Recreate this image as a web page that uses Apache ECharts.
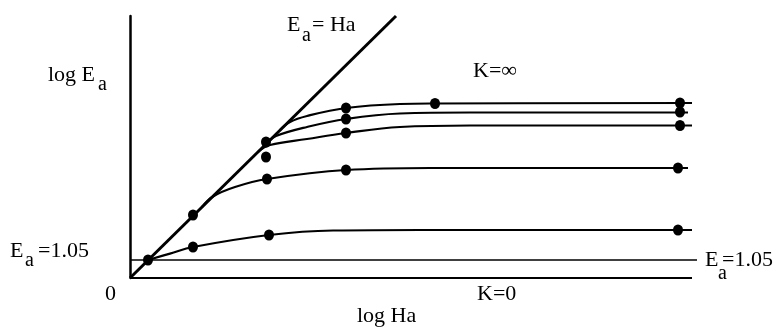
<!DOCTYPE html>
<html>
<head>
<meta charset="utf-8">
<script src="https://cdn.jsdelivr.net/npm/echarts@6/dist/echarts.min.js"></script>
<style>
  html, body { margin: 0; padding: 0; background: #fff; }
  #chart { width: 776px; height: 328px; }
</style>
</head>
<body>
<div id="chart"></div>
<script>
// log Ha on x, log Ea on y (arbitrary log units)
const diagonal = [[0, 0], [2.66, 2.62]];                     // Ea = Ha
const floorLine = [[0, 0.18], [5.67, 0.18]];                 // Ea = 1.05
const baseLine = [[0, 0], [5.62, 0]];                        // K = 0

// enhancement curves, lowest K to K = infinity
const curve1 = [[0.18, 0.18], [0.40, 0.244], [0.63, 0.31], [1.39, 0.43], [2.03, 0.475], [2.9, 0.48], [5.62, 0.48]];
const curve2 = [[0.72, 0.71], [0.83, 0.815], [1.05, 0.91], [1.37, 0.99], [2.16, 1.08], [3.0, 1.10], [5.58, 1.10]];
const curve3 = [[1.28, 1.26], [1.40, 1.33], [1.77, 1.39], [2.16, 1.45], [2.7, 1.51], [3.4, 1.525], [5.62, 1.525]];
const curve4 = [[1.38, 1.36], [1.46, 1.42], [1.77, 1.51], [2.16, 1.59], [2.7, 1.645], [3.4, 1.655], [5.58, 1.655]];
const curve5 = [[1.50, 1.48], [1.60, 1.56], [1.77, 1.62], [2.16, 1.70], [2.7, 1.74], [3.05, 1.745], [5.62, 1.75]];

// measured points on each curve
const dots1 = [[0.18, 0.18], [0.63, 0.31], [1.39, 0.43], [5.48, 0.48]];
const dots2 = [[0.63, 0.63], [1.37, 0.99], [2.16, 1.08], [5.48, 1.10]];
const dots3 = [[1.36, 1.21], [2.16, 1.45], [5.50, 1.525]];
const dots4 = [[1.36, 1.36], [2.16, 1.59], [5.50, 1.66]];
const dots5 = [[2.16, 1.70], [3.05, 1.745], [5.50, 1.75]];

const curves = [curve1, curve2, curve3, curve4, curve5];
const dotSets = [dots1, dots2, dots3, dots4, dots5];

const serif = '"Liberation Serif", "Times New Roman", serif';
const big = 22, small = 20;

function lineSeries(data, width, smooth) {
  return {
    type: 'line', data: data, symbol: 'none', smooth: smooth ? 0.4 : false,
    lineStyle: { color: '#000', width: width }, silent: true, animation: false
  };
}

// text placed by baseline
function txt(str, x, baseline, size) {
  return {
    type: 'text', x: x, y: baseline - 0.305 * size, silent: true,
    style: { text: str, font: size + 'px ' + serif, fill: '#000', align: 'left', verticalAlign: 'middle' }
  };
}

const series = [
  lineSeries(baseLine, 2, false),
  lineSeries(floorLine, 1.6, false),
  lineSeries(diagonal, 3, false)
];
curves.forEach(c => series.push(lineSeries(c, 2.2, true)));
series.push({
  type: 'scatter', data: [].concat(...dotSets), symbol: 'circle', symbolSize: [10, 11],
  itemStyle: { color: '#000', opacity: 1 }, silent: true, animation: false
});

const chart = echarts.init(document.getElementById('chart'), null, { renderer: 'canvas' });
chart.setOption({
  backgroundColor: '#fff',
  animation: false,
  grid: { left: 130, right: 76, top: 16, bottom: 50 },
  xAxis: {
    type: 'value', min: 0, max: 5.7,
    axisLine: { show: false }, axisTick: { show: false }, axisLabel: { show: false }, splitLine: { show: false }
  },
  yAxis: {
    type: 'value', min: 0, max: 2.62,
    axisLine: { show: true, lineStyle: { color: '#000', width: 2.5 } },
    axisTick: { show: false }, axisLabel: { show: false }, splitLine: { show: false }
  },
  series: series,
  graphic: [
    txt('E', 287, 32, big), txt('a', 302, 42, small), txt('= Ha', 312, 32, big),
    txt('log E', 48, 82, big), txt('a', 98, 91, small),
    txt('K=\u221e', 473, 78, big),
    txt('E', 10, 258, big), txt('a', 25, 267, small), txt('=1.05', 38, 258, big),
    txt('E', 705, 267, big), txt('a', 718, 280, small), txt('=1.05', 722, 267, big),
    txt('0', 105, 301, big),
    txt('K=0', 477, 301, big),
    txt('log Ha', 357, 323, big)
  ]
});
</script>
</body>
</html>
